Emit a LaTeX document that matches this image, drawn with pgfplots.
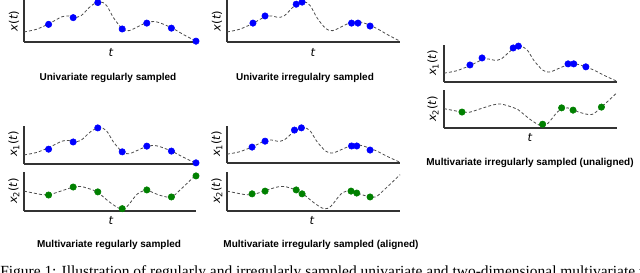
\documentclass[border=0pt]{standalone}
\usepackage{fontspec}
\setmainfont{Liberation Serif}
\newfontfamily\lsans{Liberation Sans}
\newfontfamily\dejavu{DejaVu Sans}
\usepackage{pgfplots}
\usepackage{pgfplotstable}
\pgfplotsset{compat=1.18}

\pgfplotstableread{
u v
0 0.24
0.07 0.30
0.143 0.43
0.22 0.60
0.26 0.62
0.29 0.59
0.33 0.62
0.39 0.86
0.44 0.96
0.48 0.87
0.52 0.58
0.571 0.32
0.61 0.27
0.66 0.36
0.714 0.46
0.77 0.48
0.857 0.34
0.93 0.17
1 0.02
}\curveA

\pgfplotstableread{
u v
0 0.51
0.104 0.42
0.143 0.41
0.22 0.52
0.286 0.61
0.33 0.63
0.40 0.54
0.429 0.48
0.50 0.22
0.56 0.06
0.60 0.12
0.66 0.44
0.714 0.53
0.75 0.47
0.80 0.39
0.857 0.36
0.91 0.55
1 0.93
}\curveB

\pgfplotsset{
  panel/.style={scale only axis, clip=false,
    axis x line*=bottom, axis y line*=left,
    axis line style={-, black!80, line width=0.8pt},
    xtick=\empty, ytick=\empty,
    xmin=0, xmax=1, ymin=0, ymax=1, anchor=south west},
  curve/.style={smooth, tension=0.55, black!70, line width=0.6pt,
    dash pattern=on 2.2pt off 1.6pt, no marks},
  bdots/.style={only marks, mark=*, mark size=2.4pt, blue, mark options={fill=blue, draw=blue}},
  gdots/.style={only marks, mark=*, mark size=2.4pt, green!50!black, mark options={fill=green!50!black, draw=green!50!black}},
}

\newcommand{\lab}[1]{{\dejavu\fontsize{8.6}{10}\selectfont #1}}
\newcommand{\xt}{\lab{\textit{x}(\textit{t})}}
\newcommand{\xsub}[1]{\lab{\textit{x}\raisebox{-0.2em}{\fontsize{6.2}{7}\selectfont #1}(\textit{t})}}
\newcommand{\tl}{\lab{\textit{t}}}
\newcommand{\ttl}[1]{{\lsans\bfseries\fontsize{7.5}{9}\selectfont #1}}

\begin{document}
\begin{tikzpicture}
\path[use as bounding box] (0pt,0pt) rectangle (480pt,-204pt);
\clip (0pt,0pt) rectangle (480pt,-204pt);

% Panel 1: univariate regular
\begin{axis}[panel, at={(18pt,-31.5pt)}, width=129pt, height=31.5pt]
\addplot[curve] table[x=u,y=v] {\curveA};
\addplot[bdots] coordinates {(0.143,0.42) (0.286,0.58) (0.429,0.94) (0.571,0.31) (0.714,0.45) (0.857,0.33) (1,0.02)};
\end{axis}

% Panel 2: univariate irregular
\begin{axis}[panel, at={(170.25pt,-31.5pt)}, width=129.75pt, height=31.5pt]
\addplot[curve] table[x=u,y=v] {\curveA};
\addplot[bdots] coordinates {(0.15,0.45) (0.22,0.62) (0.40,0.90) (0.434,0.95) (0.72,0.45) (0.757,0.45) (0.827,0.38)};
\end{axis}

% Panel 3: multivariate irregular unaligned
\begin{axis}[panel, at={(333pt,-61.5pt)}, width=129.75pt, height=27.75pt]
\addplot[curve] table[x=u,y=v] {\curveA};
\addplot[bdots] coordinates {(0.15,0.46) (0.22,0.65) (0.40,0.92) (0.43,0.97) (0.717,0.49) (0.75,0.49) (0.82,0.41)};
\end{axis}
\begin{axis}[panel, at={(333pt,-96pt)}, width=129.75pt, height=28.5pt]
\addplot[curve] table[x=u,y=v] {\curveB};
\addplot[gdots] coordinates {(0.104,0.42) (0.57,0.10) (0.68,0.53) (0.746,0.47) (0.91,0.55)};
\end{axis}

% Panel 4: multivariate regular
\begin{axis}[panel, at={(18pt,-123pt)}, width=129pt, height=28.5pt]
\addplot[curve] table[x=u,y=v] {\curveA};
\addplot[bdots] coordinates {(0.143,0.39) (0.286,0.58) (0.429,0.95) (0.571,0.32) (0.714,0.47) (0.857,0.34) (1,0.03)};
\end{axis}
\begin{axis}[panel, at={(18pt,-158.25pt)}, width=129pt, height=29.25pt]
\addplot[curve] table[x=u,y=v] {\curveB};
\addplot[gdots] coordinates {(0.143,0.41) (0.286,0.615) (0.429,0.49) (0.571,0.06) (0.714,0.54) (0.857,0.36) (1,0.90)};
\end{axis}

% Panel 5: multivariate irregular aligned
\begin{axis}[panel, at={(170.25pt,-122.25pt)}, width=129.75pt, height=27.75pt]
\addplot[curve] table[x=u,y=v] {\curveA};
\addplot[bdots] coordinates {(0.145,0.43) (0.22,0.59) (0.39,0.89) (0.43,0.95) (0.72,0.46) (0.75,0.46) (0.827,0.35)};
\end{axis}
\begin{axis}[panel, at={(170.25pt,-158.25pt)}, width=129.75pt, height=29.25pt]
\addplot[curve] table[x=u,y=v] {\curveB};
\addplot[gdots] coordinates {(0.145,0.44) (0.22,0.51) (0.40,0.54) (0.434,0.44) (0.717,0.51) (0.75,0.46) (0.827,0.36)};
\end{axis}

\begin{scope}[x=0.75pt,y=-0.75pt]
% axis labels
\node[rotate=90] at (14,21) {\xt};
\node at (111,52) {\tl};
\node[rotate=90] at (217,21) {\xt};
\node at (313,52) {\tl};
\node[rotate=90] at (433,63) {\xsub{1}};
\node[rotate=90] at (433,109) {\xsub{2}};
\node at (530,137) {\tl};
\node[rotate=90] at (14,144) {\xsub{1}};
\node[rotate=90] at (14,191) {\xsub{2}};
\node at (111,220) {\tl};
\node[rotate=90] at (217,144) {\xsub{1}};
\node[rotate=90] at (217,191) {\xsub{2}};
\node at (312,220) {\tl};
% titles
\node at (108,78) {\ttl{Univariate regularly sampled}};
\node at (305,78) {\ttl{Univarite irregulalry sampled}};
\node at (530,163) {\ttl{Multivariate irregularly sampled (unaligned)}};
\node at (109,245) {\ttl{Multivariate regularly sampled}};
\node at (321,245) {\ttl{Multivariate irregularly sampled (aligned)}};
% caption (cut off by the page edge)
\node[anchor=base west, inner sep=0pt] at (0,276) {\fontsize{11.6}{14}\selectfont Figure 1: Illustration of regularly and irregularly sampled univariate and two-dimensional multivariate time series};
\end{scope}
\end{tikzpicture}
\end{document}
